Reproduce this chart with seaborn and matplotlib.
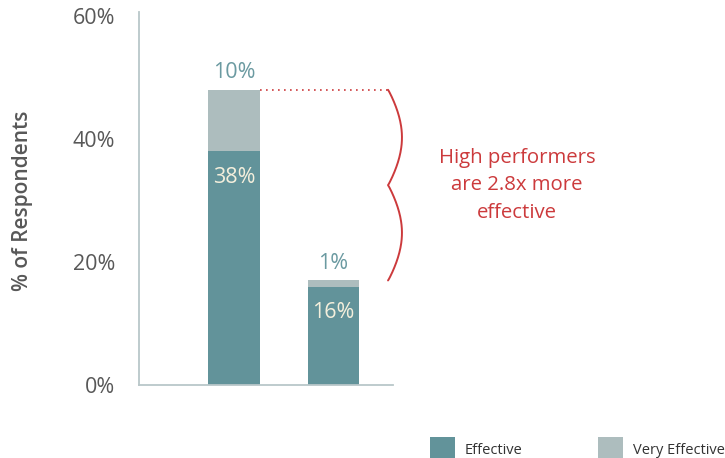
import numpy as np
import pandas as pd
import matplotlib
matplotlib.use("Agg")
import matplotlib.pyplot as plt
from matplotlib.patches import Rectangle
import seaborn as sns

# Survey results (percent of respondents)
groups = ["High performers", "Others"]
effective = [38, 16]
very_effective = [10, 1]
yticks = [0, 20, 40, 60]
ytick_labels = ["0%", "20%", "40%", "60%"]
callout = "High performers\nare 2.8x more\neffective"
legend_labels = ["Effective", "Very Effective"]

C_EFF = "#62939a"
C_VERY = "#adbdbe"
C_SPINE = "#b9c7c9"
C_TEXT = "#585858"
C_VALUE = "#6b9aa1"
C_INSIDE = "#f4efdc"
C_RED = "#cc3a3c"

sns.set_theme(style="white")
plt.rcParams["font.family"] = ["Open Sans", "DejaVu Sans"]

df = pd.DataFrame({
    "group": groups,
    "effective": effective,
    "very": very_effective,
})
df["total"] = df["effective"] + df["very"]

fig = plt.figure(figsize=(7.25, 4.58), dpi=100)
ax = fig.add_axes([139 / 725, 73 / 458, 254 / 725, 373 / 458])

# stacked bars: full height first, then the lower segment on top of it
sns.barplot(data=df, x="group", y="total", color=C_VERY, width=0.52,
            saturation=1, errorbar=None, linewidth=0, ax=ax)
sns.barplot(data=df, x="group", y="effective", color=C_EFF, width=0.52,
            saturation=1, errorbar=None, linewidth=0, ax=ax)

ax.set_xlim(-0.955, 1.598)
ax.set_ylim(0, 60.65)
ax.set_yticks(yticks)
ax.set_yticklabels(ytick_labels)
ax.set_xticks([])
ax.set_xlabel("")
ax.tick_params(axis="y", length=0, pad=17, labelsize=15.5, labelcolor=C_TEXT)
for s in ["top", "right"]:
    ax.spines[s].set_visible(False)
for s in ["left", "bottom"]:
    ax.spines[s].set_color(C_SPINE)
    ax.spines[s].set_linewidth(1.3)

ax.set_ylabel("% of Respondents", fontsize=15, color=C_TEXT, fontweight="semibold")
ax.yaxis.set_label_coords(-0.416, 0.493)

# value labels
px = 72 / 100  # points per pixel
for i, row in df.iterrows():
    ax.annotate(f"{row['very']}%", (i, row["total"]), xytext=(0, 17 * px),
                textcoords="offset points", ha="center", va="center",
                fontsize=15.5, color=C_VALUE)
    ax.annotate(f"{row['effective']}%", (i, row["effective"]), xytext=(0, -26 * px),
                textcoords="offset points", ha="center", va="center",
                fontsize=15.5, color=C_INSIDE)

# dotted guide from the top of the first bar
top = df["total"].iloc[0]
low = df["total"].iloc[1]
x_brace = 1.548
ax.plot([0.26, x_brace], [top, top], color=C_RED, lw=1.2,
        linestyle=(0, (1, 2.6)), clip_on=False)

# curly brace spanning the gap between the two totals
mid = (top + low) / 2
s = np.linspace(0, 1, 80)
amp = 0.14
y_up = top - s * (top - mid)
x_up = x_brace + amp * np.sin(np.pi * s) ** 0.9
y_dn = mid - s * (mid - low)
x_dn = x_brace + amp * np.sin(np.pi * s) ** 0.9
ax.plot(np.r_[x_up, x_dn], np.r_[y_up, y_dn], color=C_RED, lw=1.4,
        clip_on=False, solid_capstyle="round")

ax.text(2.844, mid, callout, ha="center", va="center", fontsize=14.7,
        color=C_RED, linespacing=1.5, clip_on=False)

# legend along the bottom edge
for (x0, label, col) in [(430, legend_labels[0], C_EFF), (598, legend_labels[1], C_VERY)]:
    fig.patches.append(Rectangle((x0 / 725, -0.01), 25 / 725, (458 - 437) / 458 + 0.01,
                                 transform=fig.transFigure, color=col, lw=0))
    fig.text((x0 + 35) / 725, 1 - 450 / 458, label, ha="left", va="center",
             fontsize=10.5, color="#333333")

fig.savefig("out.png", dpi=100)
